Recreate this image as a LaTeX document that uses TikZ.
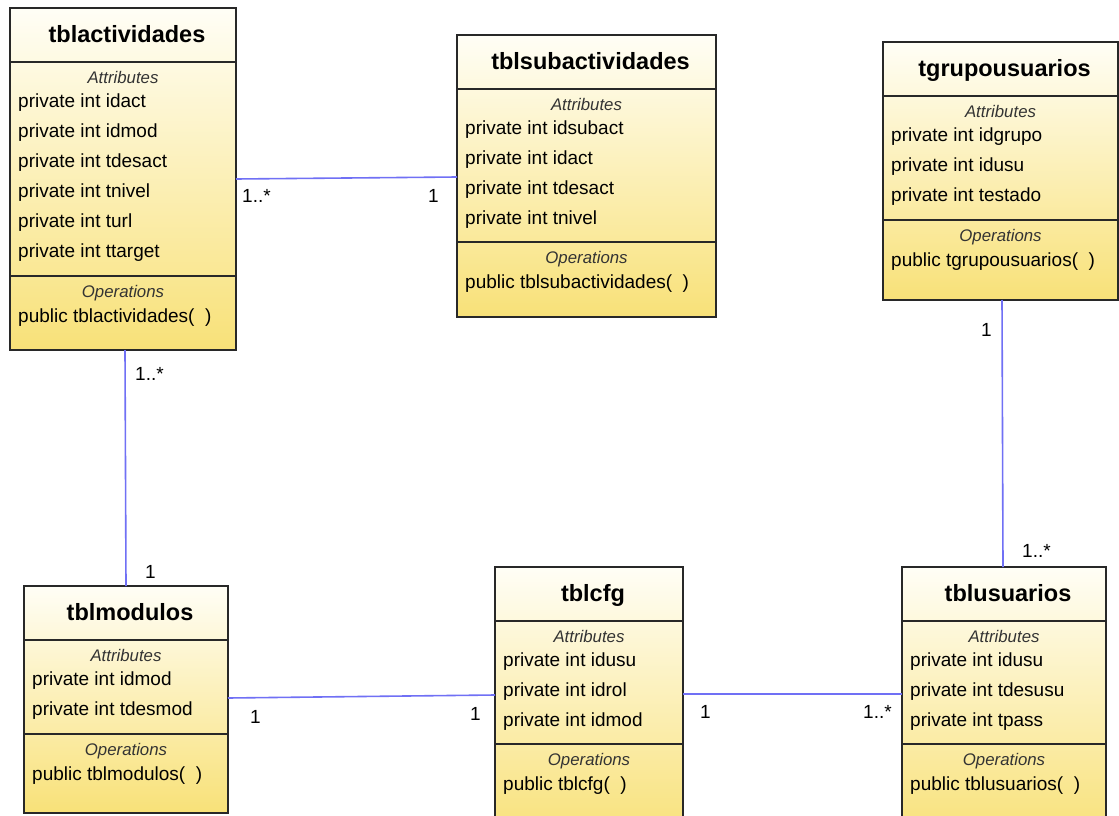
\documentclass[tikz,border=0pt]{standalone}
\usepackage{fontspec}
\setmainfont{Liberation Sans}
\usetikzlibrary{calc}
\definecolor{boxtop}{RGB}{255,254,246}
\definecolor{boxbot}{RGB}{248,225,120}
\definecolor{assoc}{RGB}{112,112,245}
\definecolor{edge}{RGB}{40,40,40}
\tikzset{
 clsbox/.style={draw=edge, line width=1.2pt, top color=boxtop, bottom color=boxbot, anchor=north west, inner sep=0pt, outer sep=0pt},
 sepline/.style={draw=edge, line width=1.2pt},
 clstitle/.style={font=\fontsize{23.5}{28}\selectfont\bfseries, anchor=base, inner sep=0pt},
 seclabel/.style={font=\fontsize{16.8}{20}\selectfont\itshape, text=black!80, anchor=base, inner sep=0pt},
 member/.style={font=\fontsize{19}{22}\selectfont, anchor=base west, inner sep=0pt},
 mult/.style={font=\fontsize{19}{22}\selectfont, anchor=base west, inner sep=0pt},
 assocline/.style={draw=assoc, line width=1.6pt},
}
\newcommand\umlclass[9]{%
 \node[clsbox, minimum width={(#4-#2)*1pt}, minimum height={(#5-#3)*1pt}] (#1) at (#2,#3) {};
 \draw[sepline] ([yshift=-54pt]#1.north west) -- ([yshift=-54pt]#1.north east);
 \draw[sepline] ([yshift={-(#6-#3)*1pt}]#1.north west) -- ([yshift={-(#6-#3)*1pt}]#1.north east);
 \node[clstitle] at ([xshift=4pt,yshift=-34.5pt]#1.north) {#7};
 \node[seclabel] at ([yshift=-75.5pt]#1.north) {Attributes};
 \foreach \a [count=\i] in {#8} \node[member] at ([xshift=8pt,yshift={-(69.5+30*\i)*1pt}]#1.north west) {private int \a};
 \node[seclabel] at ([yshift={-(#6-#3+21.5)*1pt}]#1.north) {Operations};
 \node[member] at ([xshift=8pt,yshift={-(#6-#3+46)*1pt}]#1.north west) {public #9(\ \ )};
}
\begin{document}
\begin{tikzpicture}[x=1pt,y=-1pt]
\useasboundingbox (0,0) rectangle (1119,816);
\clip (0,0) rectangle (1119,816);
\fill[white] (0,0) rectangle (1119,816);

\umlclass{act}{10}{8}{236}{350}{276}{tblactividades}{idact,idmod,tdesact,tnivel,turl,ttarget}{tblactividades}
\umlclass{sub}{457}{35}{716}{317}{242}{tblsubactividades}{idsubact,idact,tdesact,tnivel}{tblsubactividades}
\umlclass{grp}{883}{42}{1118}{300}{220}{tgrupousuarios}{idgrupo,idusu,testado}{tgrupousuarios}
\umlclass{mod}{24}{586}{228}{813}{734}{tblmodulos}{idmod,tdesmod}{tblmodulos}
\umlclass{cfg}{495}{567}{683}{840}{744}{tblcfg}{idusu,idrol,idmod}{tblcfg}
\umlclass{usu}{902}{567}{1106}{840}{744}{tblusuarios}{idusu,tdesusu,tpass}{tblusuarios}

\draw[assocline] ([yshift=-171pt]act.north east) -- ([yshift=-142pt]sub.north west);
\draw[assocline] ([xshift=115pt]act.south west) -- ([xshift=102pt]mod.north west);
\draw[assocline] ([yshift=-112pt]mod.north east) -- ([yshift=-128pt]cfg.north west);
\draw[assocline] ([yshift=-127pt]cfg.north east) -- ([yshift=-127pt]usu.north west);
\draw[assocline] ([xshift=119pt]grp.south west) -- ([xshift=101pt]usu.north west);

\node[mult] (m1) at (242,202) {1..*};
\node[mult] (m2) at (428,202) {1};
\node[mult] (m3) at (135,380) {1..*};
\node[mult] (m4) at (145,578) {1};
\node[mult] (m5) at (981,336) {1};
\node[mult] (m6) at (1022,557) {1..*};
\node[mult] (m7) at (250,723) {1};
\node[mult] (m8) at (470,720) {1};
\node[mult] (m9) at (700,718) {1};
\node[mult] (m10) at (863,718) {1..*};
\end{tikzpicture}
\end{document}
